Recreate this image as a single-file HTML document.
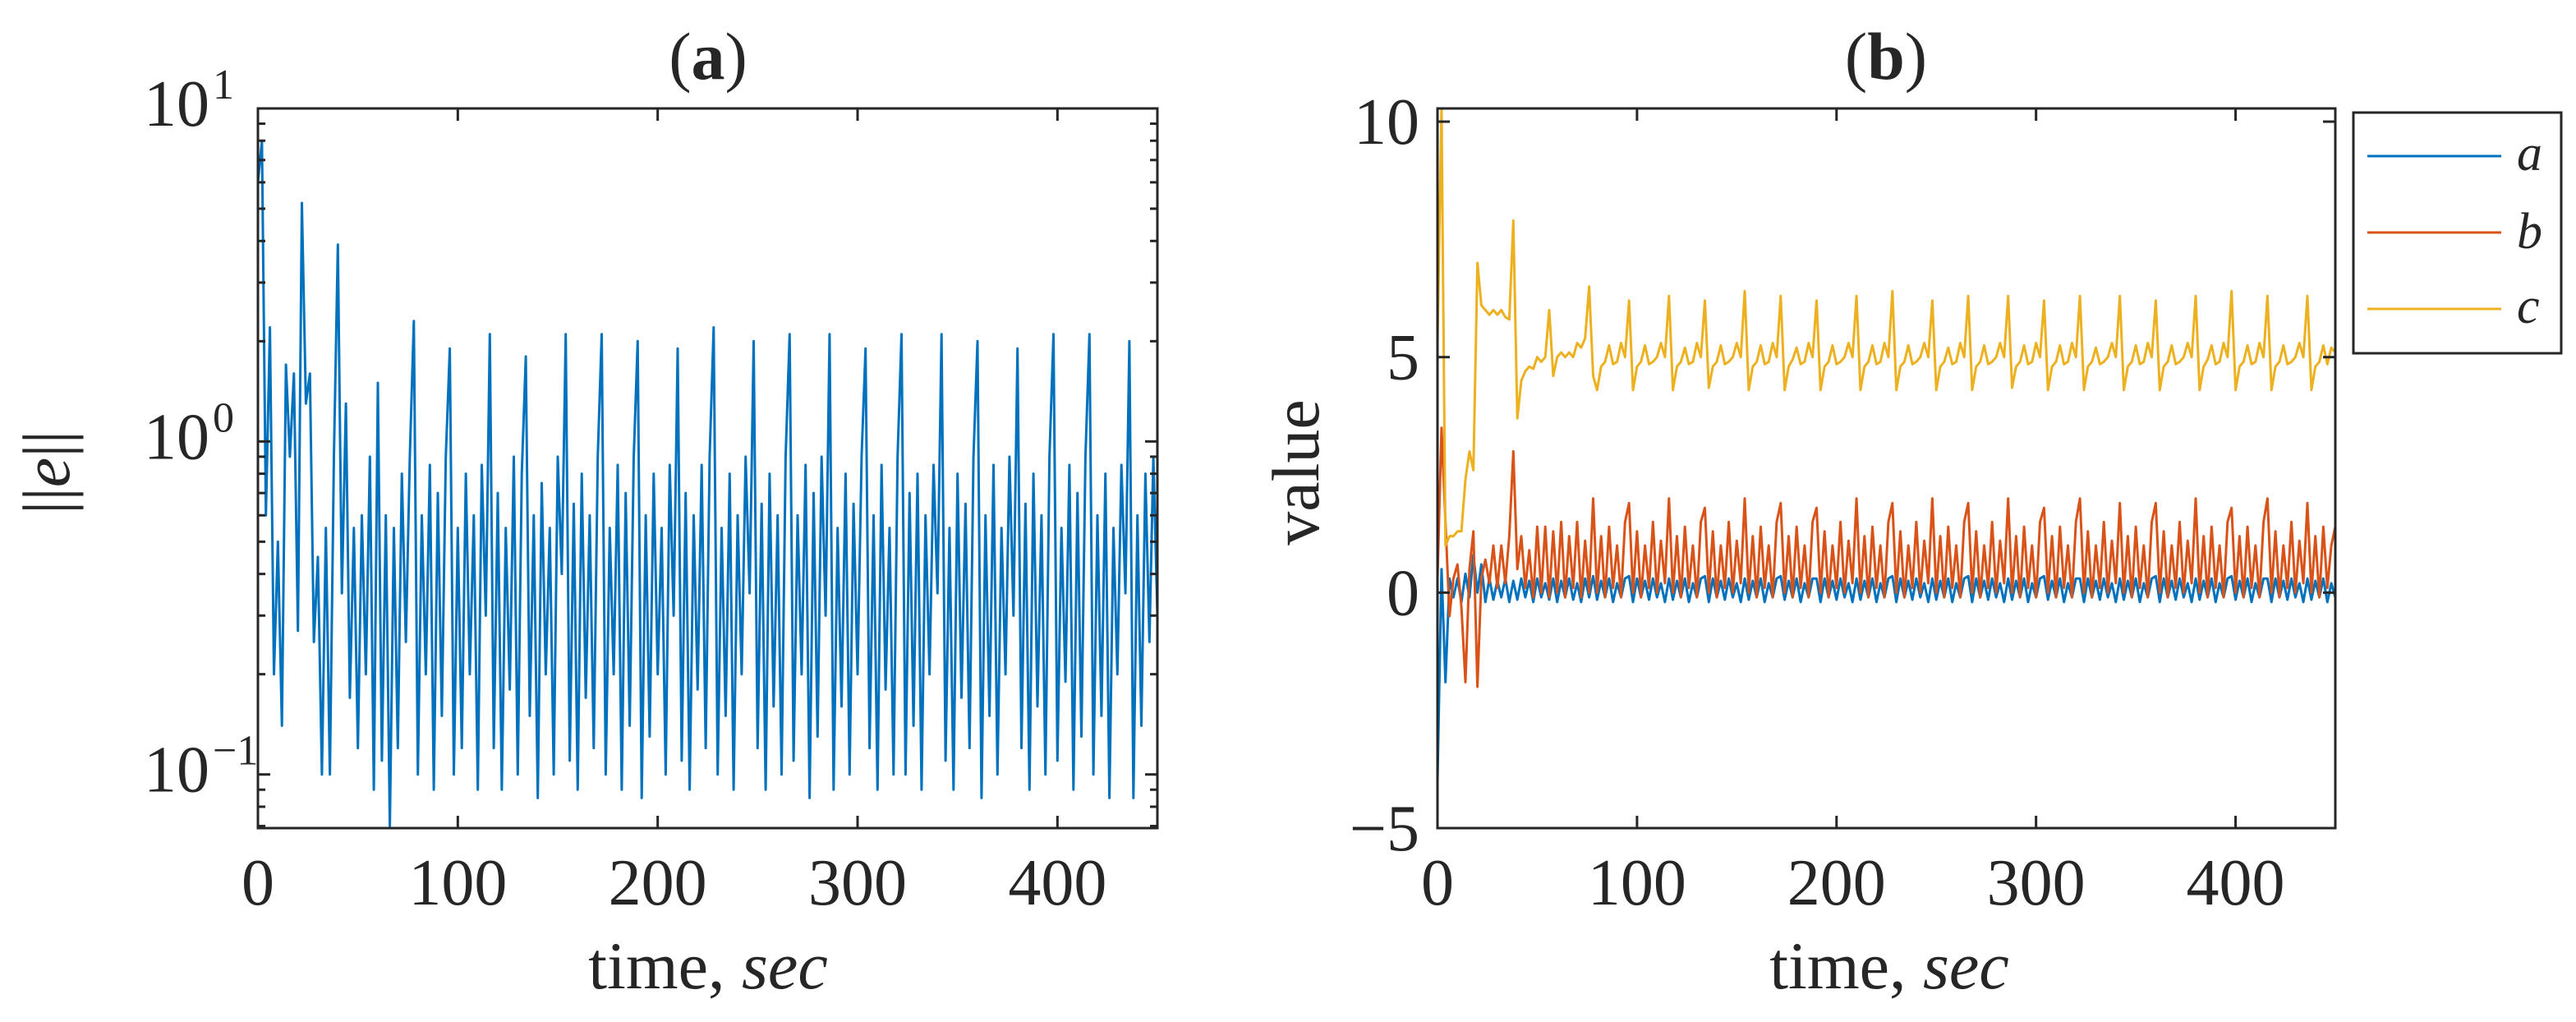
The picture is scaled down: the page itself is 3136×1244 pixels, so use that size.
<!DOCTYPE html>
<html><head><meta charset="utf-8"><title>Error norm and values</title>
<style>
html,body{margin:0;padding:0;background:#fff;}
svg{display:block;}
text{font-family:"Liberation Serif","DejaVu Serif",serif;fill:#262626;}
</style></head>
<body>
<svg id="fig" width="3136" height="1244" viewBox="0 0 3136 1244" xmlns="http://www.w3.org/2000/svg">
<g id="panelA"></g>
<g id="panelB"></g>
<g id="legend">
  <rect x="2865" y="137" width="253" height="293" fill="#fff" stroke="#262626" stroke-width="3"/>
  <g><line x1="2882" y1="190" x2="3045" y2="190" stroke="#0072BD" stroke-width="3"/><text x="3064" y="207" font-size="62" font-style="italic">a</text></g>
  <g><line x1="2882" y1="283" x2="3045" y2="283" stroke="#D95319" stroke-width="3"/><text x="3064" y="302" font-size="62" font-style="italic">b</text></g>
  <g><line x1="2882" y1="376" x2="3045" y2="376" stroke="#EDB120" stroke-width="3"/><text x="3064" y="393" font-size="62" font-style="italic">c</text></g>
</g>
</svg>
<script>
// ---------- data ----------
const DT = 2; // seconds between samples
const xTicks = [0, 100, 200, 300, 400];
const xTickLabels = ["0", "100", "200", "300", "400"];
const xRange = [0, 450];
const logRange = [0.069, 10];
const logMajor = [0.1, 1, 10];
const logMajorExp = ["\u22121", "0", "1"];
const valRange = [-5, 10.28];
const valTicks = [-5, 0, 5, 10];
const valTickLabels = ["\u22125", "0", "5", "10"];

const eNorm = [6,8,0.6,2.2,0.2,0.5,0.14,1.7,0.9,1.6,0.27,5.2,1.3,1.6,0.25,0.45,0.1,0.55,0.1,0.9,3.9,0.35,1.3,0.17,0.55,0.12,0.6,0.2,0.9,0.09,1.5,0.11,0.6,0.07,0.55,0.12,0.8,0.25,0.9,2.3,
0.1,0.6,0.2,0.85,0.09,0.7,0.15,0.9,1.9,
0.1,0.55,0.12,0.8,0.2,0.6,0.09,0.85,0.3,2.1,
0.12,0.7,0.09,0.55,0.18,0.9,0.1,0.8,1.8,
0.15,0.6,0.085,0.75,0.2,0.55,0.1,0.9,0.4,2.1,
0.11,0.65,0.09,0.8,0.17,0.6,0.12,0.9,2.1,
0.1,0.55,0.2,0.85,0.09,0.7,0.14,0.9,2.0,
0.085,0.6,0.13,0.8,0.2,0.55,0.1,0.85,0.3,1.9,
0.11,0.7,0.09,0.6,0.18,0.85,0.12,0.9,2.2,
0.1,0.55,0.15,0.8,0.09,0.6,0.2,0.9,0.35,2.0,
0.12,0.65,0.09,0.8,0.16,0.6,0.1,0.9,2.1,
0.11,0.6,0.2,0.85,0.085,0.7,0.13,0.9,0.3,2.1,
0.09,0.55,0.16,0.8,0.1,0.65,0.2,0.9,1.9,
0.12,0.6,0.09,0.85,0.18,0.55,0.1,0.9,2.1,
0.1,0.7,0.14,0.8,0.09,0.6,0.2,0.85,0.35,2.1,
0.11,0.55,0.09,0.8,0.17,0.65,0.12,0.9,2.0,
0.085,0.6,0.15,0.85,0.1,0.55,0.2,0.9,0.3,1.9,
0.12,0.65,0.09,0.8,0.16,0.6,0.1,0.9,2.1,
0.11,0.55,0.19,0.85,0.09,0.7,0.13,0.9,2.1,
0.1,0.6,0.15,0.8,0.085,0.55,0.2,0.85,0.35,2.0,
0.085,0.6,0.14,0.8,0.25,0.9,0.3];

const seriesA = [-4,0.5,-1.9,0.3,-0.1,0.3,-0.2,0.4,-0.1,0.8,0.0,0.6,-0.2,0.3,-0.15,0.25,-0.1,0.3,-0.2,0.25,-0.15,0.3,-0.1,0.25,-0.2,0.3,-0.1,0.2,-0.15,0.3,-0.2,0.25,-0.1,0.3,-0.15,0.2,-0.2,0.3,-0.1,0.35,
-0.15,0.25,-0.1,0.3,-0.2,0.2,-0.1,0.3,0.35,
-0.2,0.3,-0.1,0.25,-0.15,0.3,-0.1,0.2,-0.2,0.3,
-0.15,0.25,-0.1,0.3,-0.2,0.2,-0.1,0.3,0.35,
-0.2,0.3,-0.1,0.25,-0.15,0.3,-0.1,0.2,-0.2,0.3,
-0.15,0.25,-0.1,0.3,-0.2,0.2,-0.1,0.3,0.35,
-0.15,0.25,-0.1,0.3,-0.2,0.2,-0.1,0.3,0.3,
-0.2,0.3,-0.1,0.25,-0.15,0.3,-0.1,0.2,-0.2,0.3,
-0.15,0.25,-0.1,0.3,-0.2,0.2,-0.1,0.3,0.35,
-0.2,0.3,-0.1,0.25,-0.15,0.3,-0.1,0.2,-0.2,0.3,
-0.15,0.25,-0.1,0.3,-0.2,0.2,-0.1,0.3,0.35,
-0.2,0.3,-0.1,0.25,-0.15,0.3,-0.1,0.2,-0.2,0.3,
-0.15,0.25,-0.1,0.3,-0.2,0.2,-0.1,0.3,0.35,
-0.15,0.25,-0.1,0.3,-0.2,0.2,-0.1,0.3,0.3,
-0.2,0.3,-0.1,0.25,-0.15,0.3,-0.1,0.2,-0.2,0.3,
-0.15,0.25,-0.1,0.3,-0.2,0.2,-0.1,0.3,0.35,
-0.2,0.3,-0.1,0.25,-0.15,0.3,-0.1,0.2,-0.2,0.3,
-0.15,0.25,-0.1,0.3,-0.2,0.2,-0.1,0.3,0.35,
-0.15,0.25,-0.1,0.3,-0.2,0.2,-0.1,0.3,0.3,
-0.2,0.3,-0.1,0.25,-0.15,0.3,-0.1,0.2,-0.2,0.3,
-0.15,0.25,-0.1,0.3,-0.2,0.2,-0.1];

const seriesB = [0.3,3.5,1.5,-0.5,0.3,0.6,-0.3,-1.9,0.5,1.3,-2.0,0.3,0.7,0.2,1.0,0.1,1.0,0.2,1.2,3.0,0.5,1.2,0.1,0.9,-0.1,1.4,0.0,1.4,-0.1,1.3,0.0,1.5,-0.1,1.2,0.1,1.5,-0.1,1.1,0.0,2.0,
0.0,1.2,-0.1,1.4,0.1,1.0,-0.1,1.5,1.9,
0.0,1.3,-0.1,1.0,0.1,1.5,0.0,1.1,0.2,2.0,
0.0,1.2,-0.1,1.4,0.1,1.0,-0.1,1.5,1.8,
0.0,1.3,-0.1,1.0,0.1,1.5,0.0,1.1,0.2,2.0,
0.0,1.2,-0.1,1.4,0.1,1.0,-0.1,1.5,1.9,
0.0,1.2,-0.1,1.4,0.1,1.0,-0.1,1.5,1.8,
0.0,1.3,-0.1,1.0,0.1,1.5,0.0,1.1,0.2,2.0,
0.0,1.2,-0.1,1.4,0.1,1.0,-0.1,1.5,1.9,
0.0,1.3,-0.1,1.0,0.1,1.5,0.0,1.1,0.2,2.0,
0.0,1.2,-0.1,1.4,0.1,1.0,-0.1,1.5,1.9,
0.0,1.3,-0.1,1.0,0.1,1.5,0.0,1.1,0.2,2.0,
0.0,1.2,-0.1,1.4,0.1,1.0,-0.1,1.5,1.8,
0.0,1.2,-0.1,1.4,0.1,1.0,-0.1,1.5,2.0,
0.0,1.3,-0.1,1.0,0.1,1.5,0.0,1.1,0.2,1.9,
0.0,1.2,-0.1,1.4,0.1,1.0,-0.1,1.5,1.9,
0.0,1.3,-0.1,1.0,0.1,1.5,0.0,1.1,0.2,2.0,
0.0,1.2,-0.1,1.4,0.1,1.0,-0.1,1.5,1.8,
0.0,1.2,-0.1,1.4,0.1,1.0,-0.1,1.5,2.0,
0.0,1.3,-0.1,1.0,0.1,1.5,0.0,1.1,0.2,1.9,
0.0,1.2,-0.1,1.4,0.1,1.0,1.4];

const seriesC = [5.3,10.3,1.0,1.2,1.2,1.3,1.3,2.4,3.0,2.6,7.0,6.1,6.0,5.9,6.0,5.9,6.0,5.85,5.8,7.9,3.7,4.5,4.7,4.8,4.75,5.0,4.9,5.0,6.0,4.6,5.0,5.1,5.0,5.1,5.0,5.3,5.2,5.4,6.5,4.6,
4.3,4.8,4.9,5.25,4.85,4.9,5.3,5.0,6.2,
4.3,4.8,4.9,5.25,4.85,4.9,5.0,5.3,5.0,6.3,
4.3,4.8,4.9,5.2,4.85,4.9,5.3,5.0,6.2,
4.35,4.8,4.9,5.25,4.85,4.9,5.0,5.3,5.0,6.4,
4.3,4.8,4.9,5.25,4.85,4.9,5.3,5.0,6.3,
4.3,4.8,4.95,5.2,4.85,4.9,5.3,5.0,6.2,
4.3,4.8,4.9,5.25,4.85,4.9,5.0,5.3,5.0,6.3,
4.3,4.8,4.9,5.25,4.85,4.9,5.3,5.0,6.4,
4.3,4.8,4.9,5.25,4.85,4.9,5.0,5.3,5.0,6.2,
4.3,4.8,4.9,5.2,4.85,4.9,5.3,5.0,6.3,
4.3,4.8,4.9,5.25,4.85,4.9,5.0,5.3,5.0,6.3,
4.35,4.8,4.9,5.25,4.85,4.9,5.3,5.0,6.2,
4.3,4.8,4.9,5.25,4.85,4.9,5.3,5.0,6.3,
4.3,4.8,4.9,5.2,4.85,4.9,5.0,5.3,5.0,6.3,
4.3,4.8,4.9,5.25,4.85,4.9,5.3,5.0,6.2,
4.3,4.8,4.9,5.25,4.85,4.9,5.0,5.3,5.0,6.3,
4.3,4.8,4.95,5.25,4.85,4.9,5.3,5.0,6.4,
4.3,4.8,4.9,5.25,4.85,4.9,5.3,5.0,6.3,
4.3,4.8,4.9,5.25,4.85,4.9,5.0,5.3,5.0,6.3,
4.3,4.8,4.9,5.25,4.85,5.2,5.1];

// ---------- drawing ----------
const NS = "http://www.w3.org/2000/svg";
const AXC = "#262626";
function mk(parent, tag, attrs) {
  const el = document.createElementNS(NS, tag);
  for (const k in attrs) el.setAttribute(k, attrs[k]);
  parent.appendChild(el);
  return el;
}
const A = {l: 314, r: 1409, t: 132, b: 1008};
const B = {l: 1750, r: 2843, t: 132, b: 1008};
function xA(v) { return A.l + (v - xRange[0]) / (xRange[1] - xRange[0]) * (A.r - A.l); }
function xB(v) { return B.l + (v - xRange[0]) / (xRange[1] - xRange[0]) * (B.r - B.l); }
function yA(v) { const lo = Math.log10(logRange[0]), hi = Math.log10(logRange[1]); return A.b - (Math.log10(v) - lo) / (hi - lo) * (A.b - A.t); }
function yB(v) { return B.b - (v - valRange[0]) / (valRange[1] - valRange[0]) * (B.b - B.t); }

function linePath(parent, arr, xf, yf, color, name, clipId) {
  let d = "";
  arr.forEach((v, i) => { const t = i * DT; if (t > xRange[1]) return; d += (i ? "L" : "M") + xf(t).toFixed(1) + " " + yf(v).toFixed(1); });
  const p = mk(parent, "path", {d: d, fill: "none", stroke: color, "stroke-width": 3, "stroke-linejoin": "round", "clip-path": "url(#" + clipId + ")"});
  
  
}

const svg = document.getElementById("fig");
const defs = mk(svg, "defs", {});
const c1 = mk(defs, "clipPath", {id: "clipA"}); mk(c1, "rect", {x: A.l, y: A.t, width: A.r - A.l, height: A.b - A.t});
const c2 = mk(defs, "clipPath", {id: "clipB"}); mk(c2, "rect", {x: B.l, y: B.t, width: B.r - B.l, height: B.b - B.t});

// Panel A
const gA = document.getElementById("panelA");
linePath(gA, eNorm, xA, yA, "#0072BD", "error-norm-line", "clipA");
const boxA = mk(gA, "rect", {x: A.l, y: A.t, width: A.r - A.l, height: A.b - A.t, fill: "none", stroke: AXC, "stroke-width": 3});


xTicks.forEach((v, i) => {
  const x = xA(v);
  mk(gA, "line", {x1: x, y1: A.b, x2: x, y2: A.b - 15, stroke: AXC, "stroke-width": 3});
  mk(gA, "line", {x1: x, y1: A.t, x2: x, y2: A.t + 15, stroke: AXC, "stroke-width": 3});
  const t = mk(gA, "text", {x: x, y: 1101, "font-size": 80, "text-anchor": "middle"});
  t.textContent = xTickLabels[i];
  
  
});
logMajor.forEach((v, i) => {
  const y = yA(v);
  mk(gA, "line", {x1: A.l, y1: y, x2: A.l + 15, y2: y, stroke: AXC, "stroke-width": 3});
  mk(gA, "line", {x1: A.r, y1: y, x2: A.r - 15, y2: y, stroke: AXC, "stroke-width": 3});
  const t = mk(gA, "text", {x: 255, y: y + 21, "font-size": 80, "text-anchor": "end"});
  t.textContent = "10";
  
  
  const s = mk(gA, "text", {x: 259, y: y - 12, "font-size": 52, "text-anchor": "start"});
  s.textContent = logMajorExp[i];
  
  
});
[0.1, 1].forEach(dec => {
  for (let m = 2; m <= 9; m++) {
    const v = dec * m;
    const y = yA(v);
    if (y < A.t || y > A.b) continue;
    mk(gA, "line", {x1: A.l, y1: y, x2: A.l + 9, y2: y, stroke: AXC, "stroke-width": 3});
    mk(gA, "line", {x1: A.r, y1: y, x2: A.r - 9, y2: y, stroke: AXC, "stroke-width": 3});
  }
});
[0.07, 0.08, 0.09].forEach(v => {
  const y = yA(v); if (y > A.b) return;
  mk(gA, "line", {x1: A.l, y1: y, x2: A.l + 9, y2: y, stroke: AXC, "stroke-width": 3});
  mk(gA, "line", {x1: A.r, y1: y, x2: A.r - 9, y2: y, stroke: AXC, "stroke-width": 3});
});
let tt = mk(gA, "text", {x: 862, y: 96, "font-size": 82, "text-anchor": "middle"});
tt.innerHTML = '(<tspan font-weight="bold">a</tspan>)';


tt = mk(gA, "text", {x: 862, y: 1203, "font-size": 82, "text-anchor": "middle"});
tt.innerHTML = 'time, <tspan font-style="italic">sec</tspan>';


tt = mk(gA, "text", {x: 0, y: 0, "font-size": 82, "text-anchor": "middle", transform: "translate(84,575) rotate(-90)"});
tt.innerHTML = '||<tspan font-style="italic">e</tspan>||';



// Panel B
const gB = document.getElementById("panelB");
linePath(gB, seriesA, xB, yB, "#0072BD", "series-a-line", "clipB");
linePath(gB, seriesB, xB, yB, "#D95319", "series-b-line", "clipB");
linePath(gB, seriesC, xB, yB, "#EDB120", "series-c-line", "clipB");
const boxB = mk(gB, "rect", {x: B.l, y: B.t, width: B.r - B.l, height: B.b - B.t, fill: "none", stroke: AXC, "stroke-width": 3});


xTicks.forEach((v, i) => {
  const x = xB(v);
  mk(gB, "line", {x1: x, y1: B.b, x2: x, y2: B.b - 15, stroke: AXC, "stroke-width": 3});
  mk(gB, "line", {x1: x, y1: B.t, x2: x, y2: B.t + 15, stroke: AXC, "stroke-width": 3});
  const t = mk(gB, "text", {x: x, y: 1101, "font-size": 80, "text-anchor": "middle"});
  t.textContent = xTickLabels[i];
  
  
});
valTicks.forEach((v, i) => {
  const y = yB(v);
  mk(gB, "line", {x1: B.l, y1: y, x2: B.l + 15, y2: y, stroke: AXC, "stroke-width": 3});
  mk(gB, "line", {x1: B.r, y1: y, x2: B.r - 15, y2: y, stroke: AXC, "stroke-width": 3});
  const t = mk(gB, "text", {x: 1728, y: y + 27, "font-size": 80, "text-anchor": "end"});
  t.textContent = valTickLabels[i];
  
  
});
tt = mk(gB, "text", {x: 2296, y: 96, "font-size": 82, "text-anchor": "middle"});
tt.innerHTML = '(<tspan font-weight="bold">b</tspan>)';


tt = mk(gB, "text", {x: 2300, y: 1203, "font-size": 82, "text-anchor": "middle"});
tt.innerHTML = 'time, <tspan font-style="italic">sec</tspan>';


tt = mk(gB, "text", {x: 0, y: 0, "font-size": 82, "text-anchor": "middle", transform: "translate(1605,575) rotate(-90)"});
tt.textContent = 'value';


</script>
</body></html>
